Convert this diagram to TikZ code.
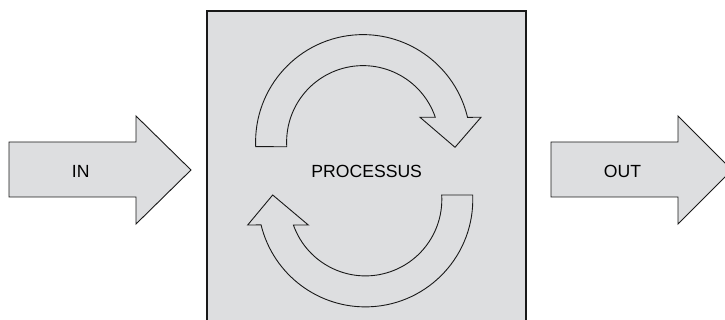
\documentclass[tikz,border=0pt]{standalone}
\usepackage{fontspec}
\setmainfont{Liberation Sans}
\definecolor{panelgray}{RGB}{221,222,224}
\definecolor{edgeblack}{RGB}{25,25,25}
\begin{document}
\begin{tikzpicture}[x=1pt,y=1pt,
  shapeline/.style={draw=edgeblack,line width=0.9pt,line join=miter},
  flowarrow/.style={shapeline,fill=panelgray},
  label/.style={font=\fontsize{17.6}{20}\selectfont,text=black,inner sep=0pt}]
\useasboundingbox (0,0) rectangle (725,320);
\clip (0,0) rectangle (725,320);
% process box
\draw[draw=edgeblack,line width=1.1pt,fill=panelgray] (207,-10) rectangle (526,309);
% IN arrow
\draw[flowarrow] (9,123) -- (9,178) -- (136,178) -- (136,204) -- (191,150)
  -- (136,96) -- (136,123) -- cycle;
% OUT arrow
\draw[flowarrow] (551,123) -- (551,178) -- (678,178) -- (678,204) -- (732,150)
  -- (678,96) -- (678,123) -- cycle;
% top circular arrow
\draw[shapeline] (255.7,173.3) arc[start angle=182.5,end angle=13.3,radius=107.4]
  -- (481,202.7) -- (455,172.7) -- (420,202.7) -- (435.3,202.7)
  arc[start angle=18.9,end angle=183.5,radius=76.4] -- cycle;
% bottom circular arrow
\draw[shapeline] (472.7,125) arc[start angle=2.4,end angle=-166.3,radius=107.4]
  -- (247.7,95) -- (272.7,125) -- (308.3,95) -- (293.4,95)
  arc[start angle=-160.5,end angle=3.4,radius=76.4] -- cycle;
% labels
\node[label] (in) at (80.7,149) {IN};
\node[label] (out) at (622.5,149) {OUT};
\node[label] (proc) at (366.7,148.3) {PROCESSUS};
\end{tikzpicture}
\end{document}
